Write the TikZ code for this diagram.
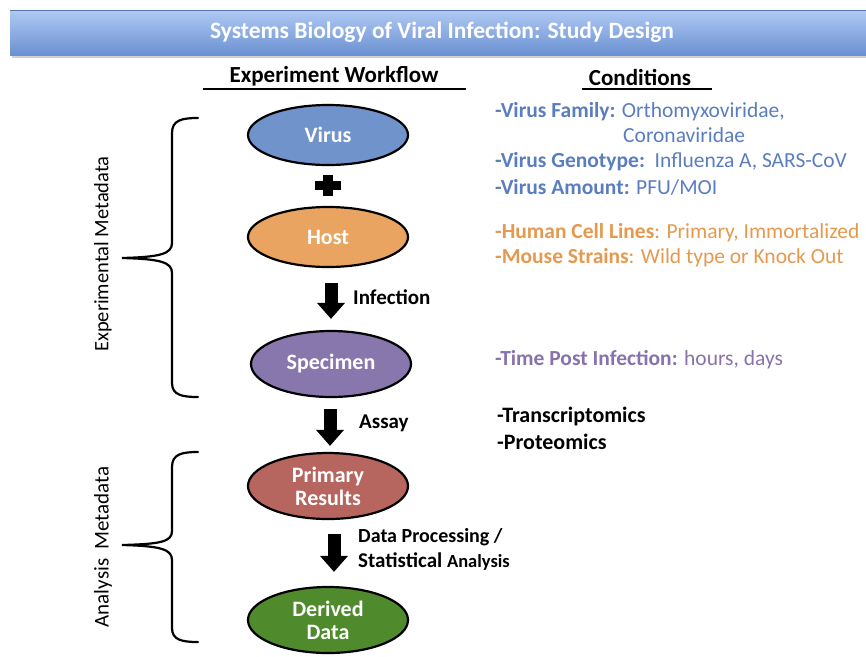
\documentclass[tikz,border=0pt]{standalone}
\usepackage{fontspec}
\setmainfont{Carlito}
\usetikzlibrary{arrows.meta,calc,shapes.geometric}
\definecolor{barTop}{HTML}{AFC9F4}
\definecolor{barBot}{HTML}{6B91D2}
\definecolor{virusF}{HTML}{7093CB}
\definecolor{hostF}{HTML}{E8A460}
\definecolor{specF}{HTML}{8877AC}
\definecolor{primF}{HTML}{B7655F}
\definecolor{derF}{HTML}{4F8B2D}
\definecolor{condBlue}{HTML}{5A7DC0}
\definecolor{condOrange}{HTML}{E5994F}
\definecolor{condPurple}{HTML}{8872AC}
\begin{document}
\begin{tikzpicture}[x=1pt,y=-1pt,
  ell/.style={ellipse,draw=black,line width=2.2pt,minimum width=160pt,minimum height=60pt,inner sep=0pt,
    text=white,font=\fontsize{22}{24}\selectfont\bfseries,align=center},
  ell2/.style={ell,minimum height=66pt},
  blockarrow/.style={line width=13pt,-{Triangle[width=27pt,length=16pt]}},
  steplabel/.style={anchor=west,inner sep=0pt,font=\fontsize{21}{24}\selectfont\bfseries},
  cond/.style={anchor=west,inner sep=0pt,font=\fontsize{21.5}{24}\selectfont},
  header/.style={inner sep=0pt,font=\fontsize{23}{26}\selectfont\bfseries},
  sidelabel/.style={rotate=90,inner sep=0pt,font=\fontsize{20.5}{24}\selectfont},
  bracepath/.style={line width=2.2pt,line cap=round}]
\useasboundingbox (0,0) rectangle (866,656);
% title bar
\fill[black!18] (12,55) rectangle (866,58);
\shade[top color=barTop,bottom color=barBot] (10,10) rectangle (866,55);
\draw[line width=0.8pt,color=barBot!80!black] (10,10) -- (866,10);
\node[text=white,inner sep=0pt,font=\fontsize{23.5}{26}\selectfont\bfseries] (title) at (442,32) {Systems Biology of Viral Infection: Study Design};
% headers
\node[header] (wf) at (334,76) {Experiment Workflow};
\draw[line width=2pt] (203,89) -- (466,89);
\node[header] (cond) at (640,77) {Conditions};
\draw[line width=2pt] (582,89) -- (712,89);
% ellipses
\node[ell,fill=virusF] (virus) at (328,135) {Virus};
\node[ell,fill=hostF] (host) at (328,237) {Host};
\node[ell2,fill=specF] (spec) at (331,364) {Specimen};
\node[ell2,fill=primF] (prim) at (328,486) {Primary\\[-1pt]Results};
\node[ell2,fill=derF] (der) at (328,620) {Derived\\[-1pt]Data};
% plus
\fill (315,181) rectangle (341,190);
\fill (323,175) rectangle (333,196);
% arrows
\draw[blockarrow] ($(host.south)+(3,15)$) -- ($(spec.north)+(0,-11)$);
\draw[blockarrow] ($(spec.south)+(-1,11)$) -- ($(prim.north)+(2,-6)$);
\draw[blockarrow] ($(prim.south)+(6,14)$) -- ($(der.north)+(6,-14)$);
\node[steplabel] (l1) at (353,297) {Infection};
\node[steplabel] (l2) at (359,423) {Assay};
\node[steplabel,font=\fontsize{20}{24}\selectfont\bfseries] (l3) at (358,537) {Data Processing /};
\node[steplabel] (l4) at (358,562) {Statistical {\fontsize{18.5}{20}\selectfont Analysis}};
% conditions
\node[cond,text=condBlue] (c1) at (495,112) {\textbf{-Virus Family:} Orthomyxoviridae,};
\node[cond,text=condBlue] (c1b) at (623,135) {Coronaviridae};
\node[cond,text=condBlue] (c2) at (495,162) {\textbf{-Virus Genotype:}\ \ Influenza A, SARS-CoV};
\node[cond,text=condBlue] (c3) at (495,187) {\textbf{-Virus Amount:} PFU/MOI};
\node[cond,text=condOrange] (c4) at (495,233) {\textbf{-Human Cell Lines}: Primary, Immortalized};
\node[cond,text=condOrange] (c5) at (495,258) {\textbf{-Mouse Strains}: Wild type or Knock Out};
\node[cond,text=condPurple] (c6) at (495,360) {\textbf{-Time Post Infection:} hours, days};
\node[cond,font=\fontsize{22}{24}\selectfont\bfseries] (c7) at (497,417) {-Transcriptomics};
\node[cond,font=\fontsize{22}{24}\selectfont\bfseries] (c8) at (497,442) {-Proteomics};
% braces
\draw[bracepath] (198,118) .. controls (182,118) and (172,120) .. (172,133) -- (172,243)
  .. controls (172,254) and (160,257) .. (122,258)
  .. controls (160,259) and (172,262) .. (172,273) -- (172,383)
  .. controls (172,395) and (182,397) .. (198,397);
\draw[bracepath] (198,452) .. controls (182,452) and (172,454) .. (172,467) -- (172,531)
  .. controls (172,542) and (160,544) .. (122,545)
  .. controls (160,546) and (172,549) .. (172,560) -- (172,628)
  .. controls (172,640) and (182,642) .. (198,642);
\node[sidelabel] (s1) at (103,254) {Experimental Metadata};
\node[sidelabel,font=\fontsize{21}{24}\selectfont] (s2) at (103,547) {Analysis\hspace{9pt}Metadata};
\end{tikzpicture}
\end{document}
